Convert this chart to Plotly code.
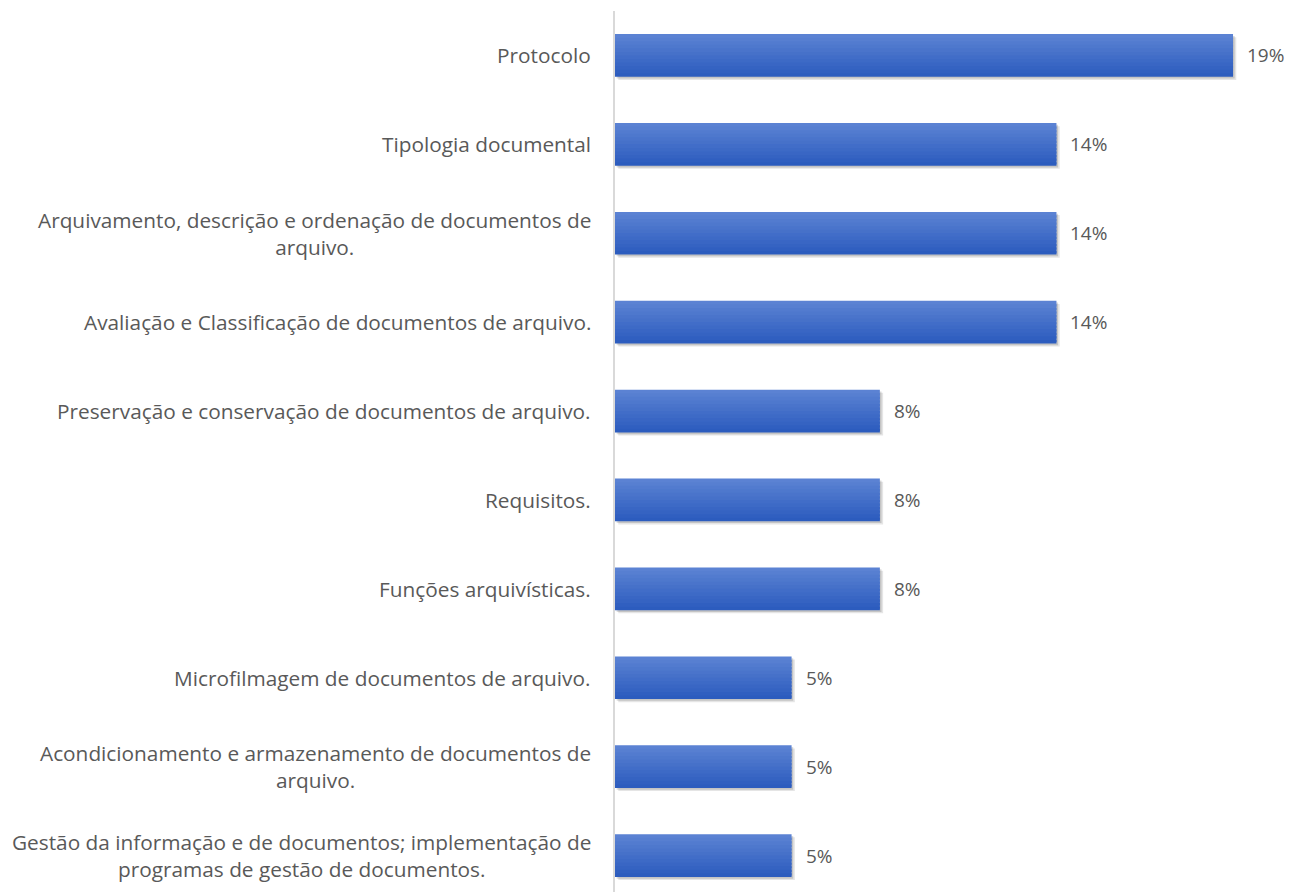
import plotly.graph_objects as go

categories = [
    "Protocolo",
    "Tipologia documental",
    "Arquivamento, descrição e ordenação de documentos de<br>arquivo.",
    "Avaliação e Classificação de documentos de arquivo.",
    "Preservação e conservação de documentos de arquivo.",
    "Requisitos.",
    "Funções arquivísticas.",
    "Microfilmagem de documentos de arquivo.",
    "Acondicionamento e armazenamento de documentos de<br>arquivo.",
    "Gestão da informação e de documentos; implementação de<br>programas de gestão de documentos.",
]
values = [18.9, 13.5, 13.5, 13.5, 8.1, 8.1, 8.1, 5.4, 5.4, 5.4]

FONT = "Open Sans"
TEXT_COLOR = "#595959"

fig = go.Figure()

# soft shadow (two layers)
for dx, dy, a in [(0.10, 0.035, 0.10), (0.05, 0.02, 0.14)]:
    fig.add_trace(go.Bar(
        y=categories, x=values, orientation="h",
        base=dx, width=0.48, offset=-0.24 + dy,
        marker=dict(color="rgba(0,0,0,%.2f)" % a, line=dict(width=0)),
        hoverinfo="skip", showlegend=False,
    ))

# gradient bars built from horizontal stripes
n = 12
top = (0x5B, 0x82, 0xD3)
bot = (0x2C, 0x5C, 0xBE)
w = 0.48 / n
for i in range(n):
    t = i / (n - 1)
    c = tuple(round(top[k] + (bot[k] - top[k]) * t) for k in range(3))
    wi = w * 1.6 if i < n - 1 else w
    fig.add_trace(go.Bar(
        y=categories, x=values, orientation="h",
        width=wi, offset=-0.24 + i * w,
        marker=dict(color="rgb(%d,%d,%d)" % c, line=dict(width=0)),
        hoverinfo="skip", showlegend=False,
    ))

annotations = []
for cat, v in zip(categories, values):
    annotations.append(dict(
        x=0, y=cat, xref="paper", yref="y", text=cat,
        xanchor="right", yanchor="middle", align="center",
        xshift=-22, showarrow=False,
        font=dict(family=FONT, size=20.8, color=TEXT_COLOR),
    ))
    annotations.append(dict(
        x=v, y=cat, xref="x", yref="y", text="%.0f%%" % v,
        xanchor="left", yanchor="middle", xshift=12, showarrow=False,
        font=dict(family=FONT, size=19, color=TEXT_COLOR),
    ))

fig.update_layout(
    width=1285, height=884,
    margin=dict(l=607, r=24, t=3, b=0),
    paper_bgcolor="white", plot_bgcolor="white",
    barmode="overlay", showlegend=False,
    annotations=annotations,
    xaxis=dict(range=[0, 20], visible=False, fixedrange=True),
    yaxis=dict(
        type="category", categoryorder="array", categoryarray=categories,
        range=[9.41, -0.5], showticklabels=False, ticks="",
        showgrid=False, zeroline=False,
        showline=True, linecolor="#d9d9d9", linewidth=2,
    ),
    font=dict(family=FONT, color=TEXT_COLOR),
)

fig.write_html("out.html")
